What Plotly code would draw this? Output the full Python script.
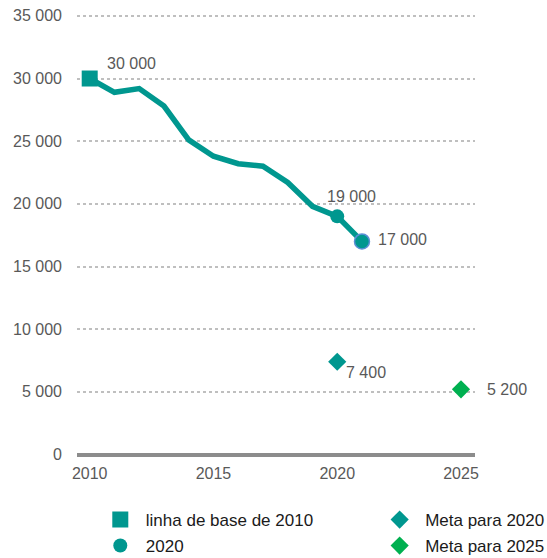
import plotly.graph_objects as go

# data
years = [2010, 2011, 2012, 2013, 2014, 2015, 2016, 2017, 2018, 2019, 2020, 2021]
values = [30000, 28900, 29200, 27800, 25100, 23800, 23200, 23000, 21700, 19800, 19000, 17000]
baseline_year, baseline_value = 2010, 30000
mid_year, mid_value = 2020, 19000
last_year, last_value = 2021, 17000
target_2020_year, target_2020_value = 2020, 7400
target_2025_year, target_2025_value = 2025, 5200
y_ticks = [0, 5000, 10000, 15000, 20000, 25000, 30000, 35000]
x_ticks = [2010, 2015, 2020, 2025]

TEAL = "#00978f"
GREEN = "#00b050"
GREY = "#595959"
TICK_SIZE = 16
LEGEND_SIZE = 17


def fmt(v):
    return f"{v:,}".replace(",", " ")


fig = go.Figure()

# main line (no legend entry)
fig.add_trace(go.Scatter(
    x=years, y=values, mode="lines",
    line=dict(color=TEAL, width=5.5),
    showlegend=False, hoverinfo="skip",
))

# each legend item gets its own legend box so rows/columns can be placed freely
fig.add_trace(go.Scatter(
    x=[baseline_year], y=[baseline_value], mode="markers",
    marker=dict(symbol="square", size=16, color=TEAL),
    name="linha de base de 2010", legend="legend",
))
fig.add_trace(go.Scatter(
    x=[mid_year], y=[mid_value], mode="markers",
    marker=dict(symbol="circle", size=14, color=TEAL),
    name="2020", legend="legend2",
))
fig.add_trace(go.Scatter(
    x=[last_year], y=[last_value], mode="markers",
    marker=dict(symbol="circle", size=15, color=TEAL, line=dict(color="#5b8fd6", width=1.5)),
    showlegend=False,
))
fig.add_trace(go.Scatter(
    x=[target_2020_year], y=[target_2020_value], mode="markers",
    marker=dict(symbol="diamond", size=14, color=TEAL),
    name="Meta para 2020", legend="legend3",
))
fig.add_trace(go.Scatter(
    x=[target_2025_year], y=[target_2025_value], mode="markers",
    marker=dict(symbol="diamond", size=14, color=GREEN),
    name="Meta para 2025", legend="legend4",
))

# value labels: (x, y, x shift px, y shift px, anchor)
labels = [
    (baseline_year, baseline_value, 15, 15, "left"),
    (mid_year, mid_value, 14, 20, "center"),
    (last_year, last_value, 14, 2, "left"),
    (target_2020_year, target_2020_value, 7, -11, "left"),
    (target_2025_year, target_2025_value, 24, 0, "left"),
]
for x, y, dx, dy, anchor in labels:
    fig.add_annotation(
        x=x, y=y, text=fmt(y), showarrow=False,
        xshift=dx, yshift=dy, xanchor=anchor,
        font=dict(size=TICK_SIZE, color=GREY),
    )

legend_style = dict(
    orientation="v", yanchor="middle", xanchor="left",
    font=dict(size=LEGEND_SIZE, color="#1a1a1a"), itemsizing="trace", itemwidth=41,
    bgcolor="rgba(0,0,0,0)", yref="container", xref="container",
)

fig.update_layout(
    width=547, height=558,
    margin=dict(l=77, r=72, t=10, b=96, autoexpand=False),
    paper_bgcolor="white", plot_bgcolor="white",
    font=dict(family="Liberation Sans, Arial, sans-serif", size=TICK_SIZE, color=GREY),
    xaxis=dict(
        range=[2009.487, 2025.566], tickvals=x_ticks, ticktext=[str(t) for t in x_ticks],
        showgrid=False, zeroline=False, showline=False, ticks="", automargin=False,
        tickfont=dict(size=TICK_SIZE, color=GREY),
    ),
    yaxis=dict(
        range=[-598, 35466], tickvals=y_ticks, ticktext=[fmt(t) for t in y_ticks],
        showgrid=True, gridcolor="#bfbfbf", griddash="dot", gridwidth=2,
        zeroline=True, zerolinecolor="#8c8c8c", zerolinewidth=4,
        showline=False, ticks="", ticklabelstandoff=14, automargin=False,
        ticklabeloverflow="allow", tickfont=dict(size=TICK_SIZE, color=GREY),
    ),
    legend=dict(x=0.1733, y=1 - 520 / 558, **legend_style),
    legend2=dict(x=0.1733, y=1 - 546 / 558, **legend_style),
    legend3=dict(x=0.684, y=1 - 520 / 558, **legend_style),
    legend4=dict(x=0.684, y=1 - 546 / 558, **legend_style),
    hovermode=False,
)

# drop the default body margin so the figure fills the window exactly
fig.write_html(
    "out.html",
    config={"displayModeBar": False},
    post_script="document.body.style.margin='0';",
)
